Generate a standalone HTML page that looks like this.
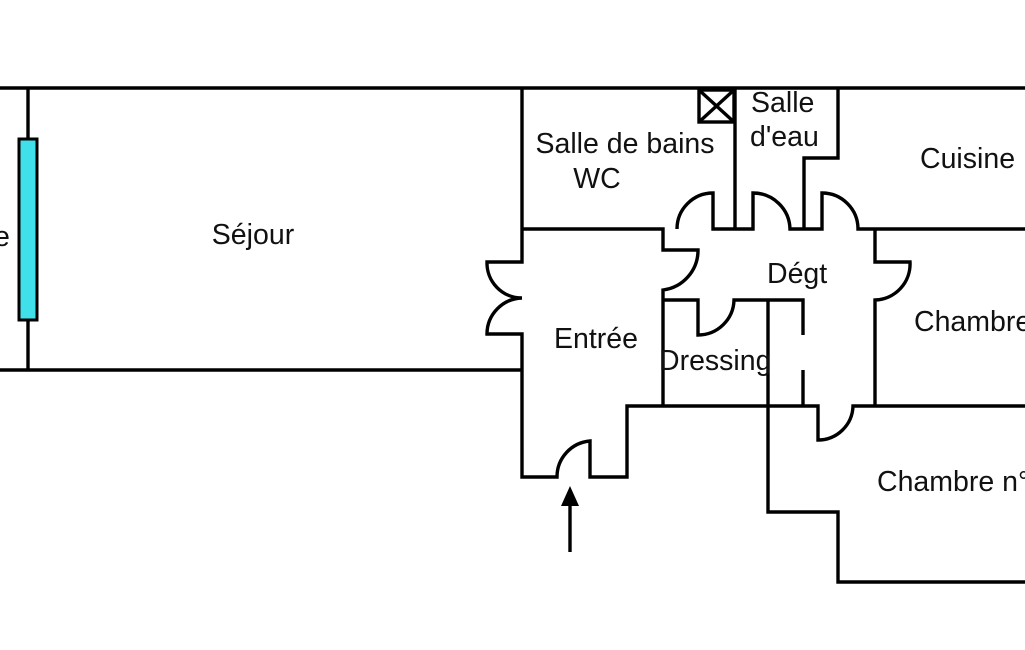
<!DOCTYPE html>
<html><head><meta charset="utf-8"><style>
html,body{margin:0;padding:0;background:#fff;}
svg{display:block}
text{font-family:"Liberation Sans",Arial,sans-serif;font-size:28.5px;fill:#111}
</style></head><body>
<svg width="1025" height="650" viewBox="0 0 1025 650" xmlns="http://www.w3.org/2000/svg">
<g fill="none" stroke="#000" stroke-width="3.4" stroke-linejoin="miter">
<line x1="0" y1="88" x2="1025" y2="88"/>
<line x1="28" y1="88" x2="28" y2="370"/>
<line x1="0" y1="370" x2="522" y2="370"/>
<path d="M522 88 V262 H487 A35 35 0 0 0 522 298 A36 36 0 0 0 487 334 H522 V477 H557 A36 36 0 0 1 590 441 V477 H627 V406 H818 V440 A35 35 0 0 0 853 406 H1025"/>
<path d="M522 229 H663 V250 H698 A40 40 0 0 1 663 290 V406"/>
<path d="M677 229 A36 36 0 0 1 713 193 V229 H753 V193 A37 37 0 0 1 790 229 H822 V193 A36 36 0 0 1 858 229 H1025"/>
<line x1="735" y1="88" x2="735" y2="229"/>
<rect x="699" y="90" width="35" height="32"/>
<line x1="699" y1="90" x2="734" y2="122"/>
<line x1="734" y1="90" x2="699" y2="122"/>
<path d="M804 229 V158 H838 V88"/>
<path d="M875 229 V262 H910 A36 36 0 0 1 875 300 V406"/>
<path d="M663 300 H698 V335 A36 36 0 0 0 734 300 H803 V335"/>
<line x1="803" y1="370" x2="803" y2="406"/>
<path d="M768 300 V512 H838 V582 H1025"/>
<line x1="570" y1="552" x2="570" y2="505"/>
</g>
<polygon points="570,486 561,506 579,506" fill="#000"/>
<rect x="19" y="139" width="18" height="181" fill="#3fe0ea" stroke="#000" stroke-width="3"/>
<text x="-6" y="246">e</text>
<text x="253" y="244" text-anchor="middle">Séjour</text>
<text x="625" y="153" text-anchor="middle">Salle de bains</text>
<text x="597" y="188" text-anchor="middle">WC</text>
<text x="751" y="112">Salle</text>
<text x="750" y="146">d'eau</text>
<text x="920" y="168">Cuisine</text>
<text x="767" y="283">Dégt</text>
<text x="914" y="331">Chambre</text>
<text x="554" y="348">Entrée</text>
<text x="659" y="370">Dressing</text>
<text x="877" y="491">Chambre n°</text>
</svg>
</body></html>
